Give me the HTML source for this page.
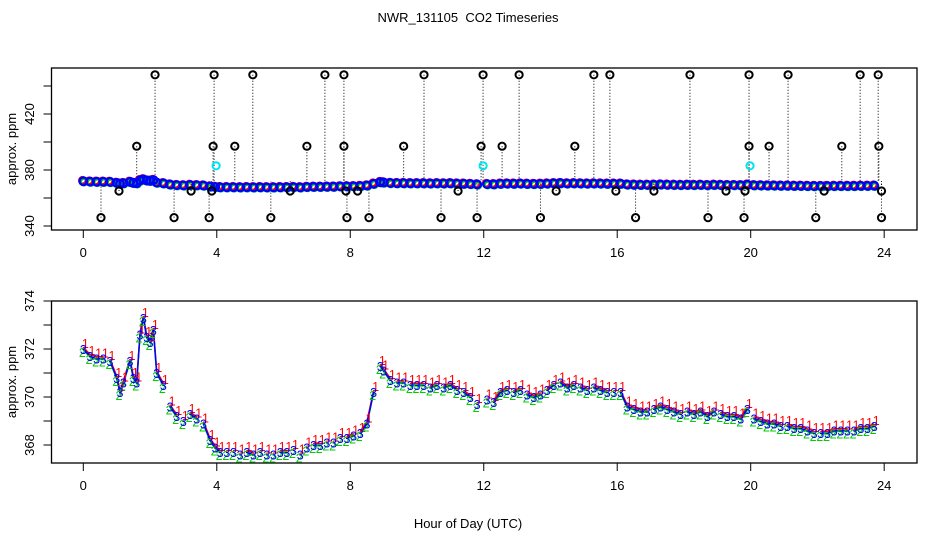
<!DOCTYPE html>
<html><head><meta charset="utf-8">
<style>
body{margin:0;background:#fff;}
svg{display:block;font-family:"Liberation Sans",Arial,sans-serif;}
</style></head>
<body>
<svg id="chart" width="936" height="540" viewBox="0 0 936 540" xmlns="http://www.w3.org/2000/svg">
<rect x="0" y="0" width="936" height="540" fill="#fff"/>
<text x="468" y="22" font-size="13" text-anchor="middle" xml:space="preserve">NWR_131105  CO2 Timeseries</text>
<text x="468" y="528" font-size="13" text-anchor="middle">Hour of Day (UTC)</text>
<g id="topPanel"></g>
<g id="botPanel"></g>
</svg>
<script>
// ---- data ----
const hours = [0,0.2,0.4,0.6,0.8,1.0,1.1,1.2,1.4,1.5,1.6,1.7,1.8,1.9,2.0,2.1,2.2,2.4,2.6,2.8,3.0,3.2,3.4,3.6,3.8,3.95,
 4.1,4.3,4.5,4.7,4.9,5.1,5.3,5.5,5.7,5.9,6.1,6.3,6.5,6.7,6.9,7.1,7.3,7.5,7.7,7.9,8.1,8.3,8.5,8.7,8.9,9.0,9.2,9.4,9.6,9.8,10.0,10.2,10.4,10.6,10.8,11.0,11.2,11.4,11.6,11.8,
 12.1,12.3,12.5,12.7,12.9,13.1,13.3,13.5,13.7,13.9,14.1,14.3,14.5,14.7,14.9,15.1,15.3,15.5,15.7,15.9,
 16.1,16.3,16.5,16.7,16.9,17.1,17.3,17.5,17.7,17.9,18.1,18.3,18.5,18.7,18.9,19.1,19.3,19.5,19.7,19.9,
 20.1,20.3,20.5,20.7,20.9,21.1,21.3,21.5,21.7,21.9,22.1,22.3,22.5,22.7,22.9,23.1,23.3,23.5,23.7];
const co2 = [372.0,371.7,371.6,371.6,371.5,370.8,370.2,370.6,371.5,370.8,370.6,372.6,373.3,372.5,372.3,372.8,371.0,370.5,369.6,369.2,369.0,369.3,369.1,368.9,368.2,367.9,
 367.7,367.7,367.7,367.6,367.7,367.6,367.7,367.6,367.6,367.7,367.7,367.8,367.6,367.9,368.0,368.0,368.1,368.1,368.3,368.3,368.4,368.5,368.9,370.2,371.3,371.1,370.7,370.6,370.6,370.5,370.5,370.5,370.4,370.5,370.4,370.5,370.3,370.2,370.0,369.7,
 369.9,369.8,370.2,370.3,370.2,370.3,370.1,370.0,370.1,370.3,370.5,370.6,370.4,370.5,370.4,370.3,370.4,370.3,370.2,370.2,
 370.2,369.6,369.5,369.4,369.4,369.5,369.6,369.5,369.4,369.3,369.4,369.3,369.4,369.2,369.4,369.3,369.2,369.2,369.1,369.5,
 369.1,369.0,368.9,368.9,368.8,368.8,368.7,368.7,368.6,368.5,368.5,368.5,368.6,368.6,368.6,368.6,368.7,368.7,368.8];
const outHigh = [2.15,3.92,5.08,7.24,7.81,10.21,11.98,13.06,15.30,15.78,18.18,19.95,21.12,23.28,23.82];
const outMid = [1.6,3.89,4.54,6.70,7.81,9.60,11.92,12.55,14.73,19.95,20.55,22.73,23.84];
const outLow = [1.07,3.23,3.85,6.2,7.87,8.22,11.23,14.17,15.96,17.1,19.26,19.83,22.2,23.92];
const outVeryLow = [0.53,2.72,3.77,5.62,7.9,8.56,10.72,11.8,13.7,16.55,18.72,19.8,21.95,23.92];
const outValues = [448,397,365,346];
const calHours = [3.98,11.98,19.98];
const calValue = 383;
const xTicks = [0,4,8,12,16,20,24];
const topTicks = [340,360,380,400,420,440];
const topLabels = ["340","","380","","420",""];
const botTicks = [368,369,370,371,372,373,374];
const botLabels = ["368","","370","","372","","374"];

const NS="http://www.w3.org/2000/svg";
function mk(tag,attrs,parent){const e=document.createElementNS(NS,tag);for(const k in attrs)e.setAttribute(k,attrs[k]);parent.appendChild(e);return e;}
const X = h => 83.3 + h*33.37;
const Yt = v => 226 - (v-340)*1.4;
const Yb = v => 445 - (v-368)*24;

function frame(g,y0,y1,ticks,labels,Y,nm){
  const r=mk('rect',{x:51.5,y:y0,width:865.5,height:y1-y0,fill:'none',stroke:'#000','stroke-width':1.3},g);
  
  
  xTicks.forEach(t=>{
    mk('line',{x1:X(t),x2:X(t),y1:y1,y2:y1+8,stroke:'#000'},g);
    const tx=mk('text',{x:X(t),y:y1+27,'font-size':13,'text-anchor':'middle'},g);
    tx.textContent=t;
    
    
  });
  ticks.forEach((t,i)=>{
    const y=Y(t);
    mk('line',{x1:43.5,x2:51.5,y1:y,y2:y,stroke:'#000'},g);
    if(labels[i]){
      const tx=mk('text',{x:34,y:y,'font-size':13,'text-anchor':'middle',transform:`rotate(-90 34 ${y})`},g);
      tx.textContent=labels[i];
      
      
    }
  });
  const cy=(y0+y1)/2;
  const yt=mk('text',{x:16,y:cy,'font-size':13,'text-anchor':'middle',transform:`rotate(-90 16 ${cy})`},g);
  yt.textContent='approx. ppm';
  
  
}

function segs(){const s=[];let cur=[];for(let i=0;i<hours.length;i++){if(i>0&&hours[i]-hours[i-1]>0.2){s.push(cur);cur=[];}cur.push(i);}s.push(cur);return s;}

// ---- top panel ----
const topG=document.getElementById('topPanel');
frame(topG,68,230,topTicks,topLabels,Yt,'top');
const outs=[outHigh,outMid,outLow,outVeryLow];
outs.forEach((arr,k)=>{arr.forEach(h=>{
  const l=mk('line',{x1:X(h),x2:X(h),y1:Yt(outValues[k]),y2:Yt(372),stroke:'#000','stroke-dasharray':'1 2','stroke-width':1},topG);
  
  
});});
const colors=['#ff0000','#00cc00','#0000ff'];
const offs=[-0.8,0.8,0];
const radii=[3.3,3.3,3.8];
colors.forEach((c,s)=>{
  hours.forEach((h,i)=>{
    const cc=mk('circle',{cx:X(h)+offs[s],cy:Yt(co2[i])+offs[s],r:radii[s],fill:'none',stroke:c,'stroke-width':2.4},topG);
    
    
  });
});
outs.forEach((arr,k)=>{arr.forEach(h=>{
  const c=mk('circle',{cx:X(h),cy:Yt(outValues[k]),r:3.6,fill:'none',stroke:'#000','stroke-width':2},topG);
  
  
});});
calHours.forEach(h=>{
  const c=mk('circle',{cx:X(h),cy:Yt(calValue),r:3.6,fill:'none',stroke:'#00e5ee','stroke-width':2},topG);
  
  
});

// ---- bottom panel ----
const botG=document.getElementById('botPanel');
frame(botG,301,463,botTicks,botLabels,Yb,'bottom');
const dx=[2,-1,0], dy=[-6,3,0];
colors.forEach((c,s)=>{
  segs().forEach(seg=>{
    const pts=seg.map(i=>X(hours[i])+','+(Yb(co2[i])+dy[s]*0.3)).join(' ');
    const p=mk('polyline',{points:pts,fill:'none',stroke:c,'stroke-width':1.5},botG);
    
    
  });
});
colors.forEach((c,s)=>{
  hours.forEach((h,i)=>{
    const t=mk('text',{x:X(h)+dx[s],y:Yb(co2[i])+5+dy[s],'font-size':12.5,'text-anchor':'middle',fill:c},botG);
    t.textContent=String(s+1);
    
    
  });
});
</script>
</body></html>
